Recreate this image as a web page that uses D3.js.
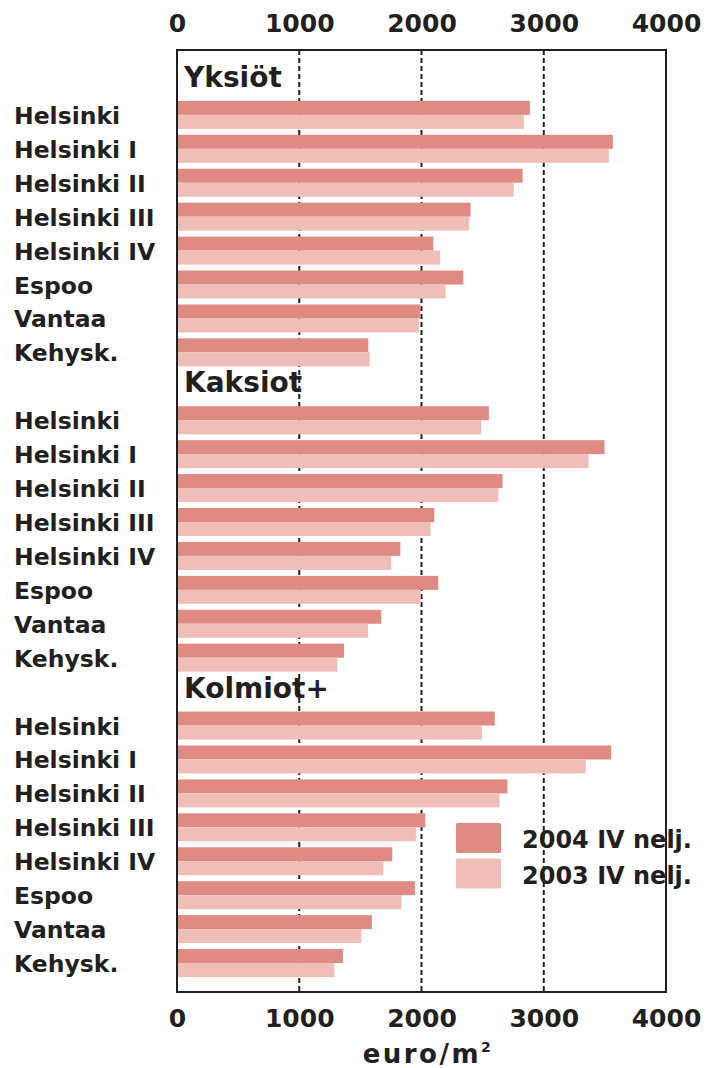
<!DOCTYPE html>
<html lang="fi">
<head>
<meta charset="UTF-8">
<title>Asuntojen neliöhinnat</title>
<style>
  body { margin: 0; background: #fff; }
  svg { display: block; }
  text { font-family: "DejaVu Sans", Verdana, sans-serif; font-weight: bold; fill: #231f20; }
  .grid { stroke: #231f20; stroke-width: 2; stroke-dasharray: 5 3; }
  .frame { fill: none; stroke: #231f20; stroke-width: 2; }
</style>
</head>
<body>
<div id="chart"></div>
<script src="https://cdn.jsdelivr.net/npm/d3@7/dist/d3.min.js"></script>
<script>
// data (euro / m2)
var sections = ['Yksiöt', 'Kaksiot', 'Kolmiot+'];
var areas = ['Helsinki', 'Helsinki I', 'Helsinki II', 'Helsinki III', 'Helsinki IV', 'Espoo', 'Vantaa', 'Kehysk.'];
var series = ['2004 IV nelj.', '2003 IV nelj.'];
var colors = ['#e08a84', '#efbeb9'];

var y2004 = [
  [2886, 3565, 2827, 2401, 2096, 2342, 1990, 1565],
  [2551, 3497, 2663, 2105, 1827, 2137, 1671, 1366],
  [2600, 3552, 2702, 2031, 1761, 1946, 1594, 1357]
];
var y2003 = [
  [2837, 3532, 2755, 2391, 2153, 2197, 1979, 1576],
  [2489, 3366, 2628, 2074, 1753, 1993, 1562, 1311],
  [2494, 3344, 2639, 1954, 1688, 1835, 1508, 1287]
];
var ticks = [0, 1000, 2000, 3000, 4000];

var W = 712, H = 1068;
var svg = d3.select('#chart').append('svg').attr('width', W).attr('height', H);

var x = d3.scaleLinear().domain([0, 4000]).range([177, 666]);

// one row for each section title and each area
var rows = [];
sections.forEach(function (s, si) {
  rows.push({ id: s, header: true, text: s });
  areas.forEach(function (a, ai) {
    rows.push({ id: s + '|' + a, header: false, text: a, vals: [y2004[si][ai], y2003[si][ai]] });
  });
});

var y = d3.scaleBand().domain(rows.map(function (d) { return d.id; })).range([64, 980]);
var sub = d3.scaleBand().domain(series).range([0, y.bandwidth()]).paddingInner(0).paddingOuter(0.212);

var plotTop = 50, plotBottom = 992;

// section titles
svg.append('g').selectAll('text')
  .data(rows.filter(function (d) { return d.header; }))
  .enter().append('text')
  .attr('x', 184)
  .attr('y', function (d) { return y(d.id) + y.bandwidth() / 2 + 6; })
  .style('font-size', '28px')
  .text(function (d) { return d.text; });

// area labels
svg.append('g').selectAll('text')
  .data(rows.filter(function (d) { return !d.header; }))
  .enter().append('text')
  .attr('x', 14)
  .attr('y', function (d) { return y(d.id) + y.bandwidth() / 2 + 9; })
  .style('font-size', '23.5px')
  .text(function (d) { return d.text; });

// legend
var leg = svg.append('g').selectAll('g').data(series).enter().append('g')
  .attr('transform', function (d, i) { return 'translate(456,' + (823 + i * 35.5) + ')'; });
leg.append('rect').attr('width', 45).attr('height', 30).attr('rx', 1.5)
  .attr('fill', function (d, i) { return colors[i]; });
leg.append('text').attr('x', 66).attr('y', 25).style('font-size', '24px').text(function (d) { return d; });

// dashed grid
svg.append('g').selectAll('line')
  .data(ticks.slice(1, -1))
  .enter().append('line')
  .attr('class', 'grid')
  .attr('x1', function (d) { return x(d); }).attr('x2', function (d) { return x(d); })
  .attr('y1', plotTop).attr('y2', plotBottom);

// bars
var groups = svg.append('g').selectAll('g')
  .data(rows.filter(function (d) { return !d.header; }))
  .enter().append('g')
  .attr('transform', function (d) { return 'translate(0,' + y(d.id) + ')'; });
groups.selectAll('rect')
  .data(function (d) { return d.vals; })
  .enter().append('rect')
  .attr('x', x(0))
  .attr('y', function (d, i) { return sub(series[i]); })
  .attr('width', function (d) { return x(d) - x(0); })
  .attr('height', sub.bandwidth())
  .attr('fill', function (d, i) { return colors[i]; });

// frame
svg.append('rect').attr('class', 'frame')
  .attr('x', x(0)).attr('y', plotTop)
  .attr('width', x(4000) - x(0)).attr('height', plotBottom - plotTop);

// axes, top and bottom
var axTop = svg.append('g').attr('transform', 'translate(0,' + plotTop + ')')
  .call(d3.axisTop(x).tickValues(ticks).tickSize(0).tickPadding(18).tickFormat(d3.format('d')));
var axBot = svg.append('g').attr('transform', 'translate(0,' + plotBottom + ')')
  .call(d3.axisBottom(x).tickValues(ticks).tickSize(0).tickPadding(17).tickFormat(d3.format('d')));
[axTop, axBot].forEach(function (a) {
  a.select('.domain').remove();
  a.selectAll('text').attr('font-family', null).style('font-size', '25px').attr('fill', '#231f20');
});

// axis title
var t = svg.append('text').attr('x', 428).attr('y', 1063)
  .attr('text-anchor', 'middle').style('font-size', '26px').style('letter-spacing', '2.5px');
t.append('tspan').text('euro/m');
t.append('tspan').attr('dy', -11).style('font-size', '14px').text('2');
</script>
</body>
</html>
